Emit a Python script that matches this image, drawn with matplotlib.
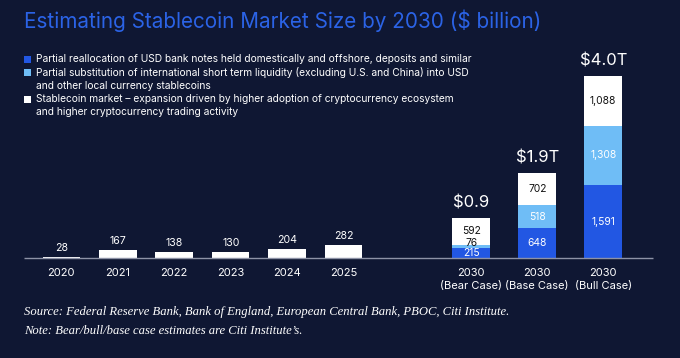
import numpy as np
import matplotlib as mpl
import matplotlib.pyplot as plt

# Werte in Mrd. USD
years = ['2020', '2021', '2022', '2023', '2024', '2025']
hist_values = [28, 167, 138, 130, 204, 282]

cases = ['Bear Case', 'Base Case', 'Bull Case']
reallocation = [215, 648, 1591]
substitution = [76, 518, 1308]
expansion = [592, 702, 1088]
totals = ['$0.9', '$1.9T', '$4.0T']

legend_labels = [
    'Partial reallocation of USD bank notes held domestically and offshore, deposits and similar',
    'Partial substitution of international short term liquidity (excluding U.S. and China) into USD\nand other local currency stablecoins',
    'Stablecoin market \u2013 expansion driven by higher adoption of cryptocurrency ecosystem\nand higher cryptocurrency trading activity',
]

bg = '#0f1733'
dark_blue = '#2257e3'
light_blue = '#6fbdf6'
white = '#ffffff'
title_blue = '#2b63e6'

W, H = 680, 358
fig = plt.figure(figsize=(W / 100, H / 100), dpi=100)
fig.patch.set_facecolor(bg)
ax = fig.add_axes([0, 0, 1, 1])
ax.set_facecolor(bg)
ax.axis('off')

# Achsenskalierung: eine Kategorie = 56.47 px, 21.9 Einheiten pro px
unit = 56.47
ypx = 21.9
ax.set_xlim(-61.3 / unit, (W - 61.3) / unit)
ax.set_ylim(-(H - 258) * ypx, 258 * ypx)

x_hist = np.arange(len(years))
x_case = np.array([7.259, 8.428, 9.597])
width = 0.664

sans = ['Inter', 'DejaVu Sans']

ax.bar(x_hist, hist_values, width=width, color=white, linewidth=0)
ax.bar(x_case, reallocation, width=width, color=dark_blue, linewidth=0)
b1 = np.array(reallocation)
ax.bar(x_case, substitution, width=width, bottom=b1, color=light_blue, linewidth=0)
b2 = b1 + np.array(substitution)
ax.bar(x_case, expansion, width=width, bottom=b2, color=white, linewidth=0)
tops = b2 + np.array(expansion)

ax.plot([-0.66, 10.478], [0, 0], color='#8d92a6', lw=1.0, solid_capstyle='butt')

# Beschriftungen
for x, v, lab in zip(x_hist, hist_values, years):
    ax.annotate(str(v), (x, v), xytext=(0, 9), textcoords='offset pixels',
                ha='center', va='center', color=white, fontsize=7.6, family=sans)
    ax.annotate(lab, (x, 0), xytext=(0, -14.5), textcoords='offset pixels',
                ha='center', va='center', color=white, fontsize=8, family=sans)

for i, x in enumerate(x_case):
    ax.annotate('2030', (x, 0), xytext=(0, -14.5), textcoords='offset pixels',
                ha='center', va='center', color=white, fontsize=8, family=sans)
    ax.annotate('(' + cases[i] + ')', (x, 0), xytext=(0, -27.5), textcoords='offset pixels',
                ha='center', va='center', color=white, fontsize=8, family=sans)
    ax.annotate(totals[i], (x, tops[i]), xytext=(0, 15), textcoords='offset pixels',
                ha='center', va='center', color=white, fontsize=12, family=sans)
    # Bear Case: "76" sitzt halb auf dem weissen Segment -> dunkle Schrift
    sub_col = '#111111' if i == 0 else white
    segs = [(reallocation[i], 0, white), (substitution[i], b1[i], sub_col),
            (expansion[i], b2[i], '#111111')]
    for j, (v, b, c) in enumerate(segs):
        dy = 3 if (i == 0 and j == 1) else 0
        ax.annotate(f'{v:,}', (x, b + v / 2), xytext=(0, dy), textcoords='offset pixels',
                    ha='center', va='center', color=c, fontsize=7.4, family=sans)

# Titel
fig.text(24 / W, 1 - 20.5 / H, 'Estimating Stablecoin Market Size by 2030 ($ billion)',
         ha='left', va='center', color=title_blue, fontsize=14.9, family=sans)

# Legende
sq_colors = [dark_blue, light_blue, white]
line_y = [59, 72.5, 99]
for c, y, lab in zip(sq_colors, line_y, legend_labels):
    fig.patches.append(mpl.patches.Rectangle((24 / W, 1 - (y + 3.5) / H), 7 / W, 7 / H,
                                             transform=fig.transFigure, color=c, lw=0))
    fig.text(36.5 / W, 1 - (y - 5.5) / H, lab, ha='left', va='top', color=white,
             fontsize=7.35, family=sans, linespacing=1.42)

# Quellen
serif = ['Liberation Serif', 'DejaVu Serif']
fig.text(24 / W, 1 - 312 / H,
         'Source: Federal Reserve Bank, Bank of England, European Central Bank, PBOC, Citi Institute.',
         ha='left', va='center', color=white, fontsize=9.1, style='italic', family=serif)
fig.text(24 / W, 1 - 331 / H,
         "Note: Bear/bull/base case estimates are Citi Institute\u2019s.",
         ha='left', va='center', color=white, fontsize=9.1, style='italic', family=serif)

fig.savefig('out.png', dpi=100, facecolor=bg)
